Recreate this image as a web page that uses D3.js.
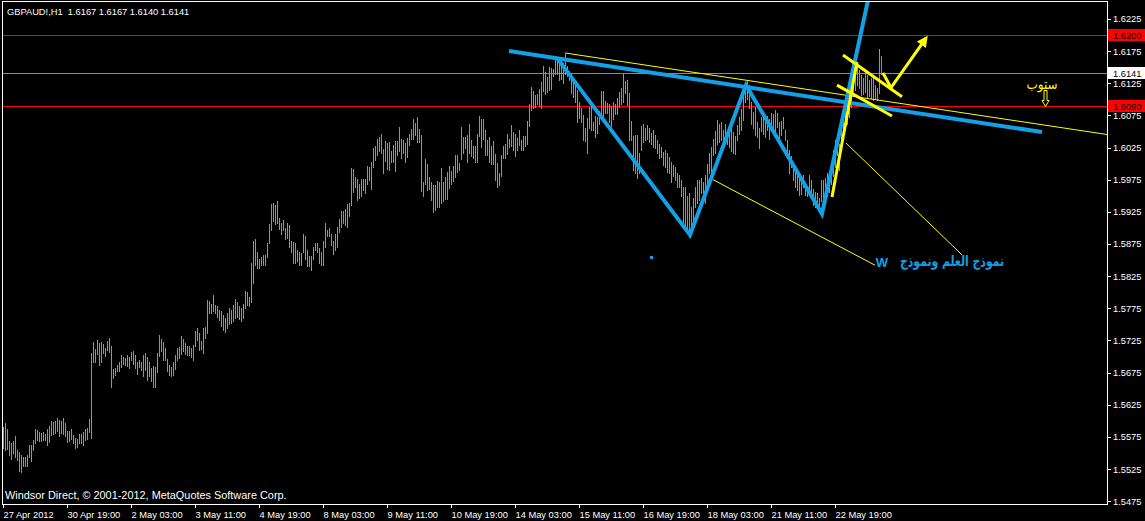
<!DOCTYPE html>
<html>
<head>
<meta charset="utf-8">
<script src="https://cdn.jsdelivr.net/npm/d3@7"></script>
<style>
  html, body { margin: 0; padding: 0; background: #000; }
  svg { display: block; }
  .lat { font-family: "Liberation Sans", Arial, sans-serif; }
</style>
</head>
<body>
<svg id="chart" width="1145" height="521"></svg>
<script>
// GBPAUD H1 — bar highs and lows, one entry per hourly bar (27 Apr 2012 → 23 May 2012)
const barHigh = [
  1.5591,1.5596,1.5587,1.5569,1.5566,1.5569,1.5577,1.5555,1.5551,1.5547,
  1.5544,1.5543,1.5547,1.5563,1.5562,1.5570,1.5588,1.5586,1.5582,1.5581,
  1.5583,1.5580,1.5588,1.5592,1.5599,1.5598,1.5599,1.5605,1.5601,1.5599,
  1.5605,1.5596,1.5584,1.5584,1.5587,1.5578,1.5574,1.5572,1.5580,1.5580,
  1.5582,1.5588,1.5589,1.5603,1.5706,1.5722,1.5712,1.5726,1.5721,1.5722,
  1.5719,1.5714,1.5724,1.5729,1.5716,1.5680,1.5682,1.5687,1.5692,1.5702,
  1.5700,1.5698,1.5702,1.5700,1.5707,1.5709,1.5702,1.5692,1.5695,1.5691,
  1.5703,1.5706,1.5700,1.5692,1.5682,1.5686,1.5683,1.5705,1.5734,1.5727,
  1.5722,1.5714,1.5696,1.5687,1.5683,1.5692,1.5702,1.5713,1.5715,1.5732,
  1.5728,1.5721,1.5716,1.5716,1.5713,1.5718,1.5739,1.5744,1.5736,1.5724,
  1.5745,1.5746,1.5788,1.5786,1.5782,1.5796,1.5780,1.5778,1.5772,1.5770,
  1.5765,1.5760,1.5768,1.5775,1.5772,1.5780,1.5790,1.5785,1.5778,1.5775,
  1.5782,1.5802,1.5801,1.5793,1.5846,1.5880,1.5883,1.5863,1.5852,1.5855,
  1.5858,1.5858,1.5877,1.5906,1.5937,1.5939,1.5936,1.5942,1.5916,1.5908,
  1.5913,1.5900,1.5908,1.5905,1.5880,1.5878,1.5877,1.5866,1.5863,1.5861,
  1.5891,1.5888,1.5866,1.5857,1.5857,1.5871,1.5877,1.5877,1.5869,1.5863,
  1.5880,1.5908,1.5897,1.5900,1.5891,1.5880,1.5891,1.5902,1.5914,1.5927,
  1.5927,1.5930,1.5937,1.5939,1.5993,1.5991,1.5979,1.5976,1.5968,1.5976,
  1.5976,1.5976,1.5996,1.5995,1.6003,1.6024,1.6028,1.6038,1.6042,1.6046,
  1.6023,1.6035,1.6032,1.6033,1.6019,1.6029,1.6035,1.6035,1.6057,1.6038,
  1.6037,1.6032,1.6040,1.6046,1.6054,1.6069,1.6063,1.6072,1.6054,1.6044,
  1.5971,1.6007,1.5999,1.5979,1.5971,1.5967,1.5967,1.5973,1.5971,1.5993,
  1.5971,1.5979,1.5987,1.5996,1.5988,1.5996,1.6013,1.6013,1.6001,1.6057,
  1.6041,1.6041,1.6044,1.6061,1.6037,1.6027,1.6027,1.6046,1.6074,1.6069,
  1.6069,1.6052,1.6037,1.6041,1.6027,1.6035,1.6015,1.6001,1.5985,1.6013,
  1.6027,1.6030,1.6046,1.6038,1.6060,1.6049,1.6046,1.6040,1.6052,1.6037,
  1.6043,1.6043,1.6066,1.6092,1.6119,1.6113,1.6107,1.6108,1.6116,1.6127,
  1.6152,1.6143,1.6135,1.6150,1.6148,1.6147,1.6161,1.6159,1.6158,1.6150,
  1.6156,1.6171,1.6152,1.6144,1.6141,1.6130,1.6125,1.6115,1.6095,1.6087,
  1.6075,1.6056,1.6071,1.6088,1.6089,1.6065,1.6074,1.6073,1.6082,1.6113,
  1.6113,1.6097,1.6094,1.6092,1.6090,1.6095,1.6092,1.6102,1.6111,1.6117,
  1.6139,1.6129,1.6130,1.6109,1.6067,1.6043,1.6044,1.6044,1.6016,1.6058,
  1.6062,1.6056,1.6060,1.6056,1.6047,1.6052,1.6044,1.6037,1.6031,1.6026,
  1.6018,1.6021,1.6016,1.6011,1.6003,1.5998,1.5995,1.5985,1.5982,1.5974,
  1.5964,1.5964,1.5949,1.5954,1.5933,1.5946,1.5964,1.5974,1.5975,1.5977,
  1.5972,1.5982,1.6000,1.6016,1.6026,1.6039,1.6051,1.6068,1.6062,1.6064,
  1.6052,1.6062,1.6053,1.6047,1.6056,1.6049,1.6043,1.6060,1.6072,1.6085,
  1.6117,1.6125,1.6129,1.6122,1.6096,1.6081,1.6088,1.6065,1.6055,1.6073,
  1.6081,1.6065,1.6074,1.6070,1.6079,1.6077,1.6083,1.6079,1.6064,1.6066,
  1.6072,1.6053,1.6037,1.6021,1.6012,1.5994,1.5991,1.5982,1.5985,1.5980,
  1.5982,1.5969,1.5964,1.5982,1.5974,1.5961,1.5956,1.5954,1.5946,1.5974,
  1.5974,1.5977,1.5985,1.5980,1.5995,1.6021,1.6037,1.6042,1.6031,1.6057,
  1.6073,1.6088,1.6094,1.6109,1.6130,1.6146,1.6153,1.6150,1.6146,1.6138,
  1.6133,1.6141,1.6138,1.6130,1.6133,1.6136,1.6122,1.6118,1.6178,1.6167
];
const barLow = [
  1.5557,1.5555,1.5556,1.5547,1.5541,1.5550,1.5544,1.5539,1.5522,1.5521,
  1.5529,1.5530,1.5529,1.5543,1.5537,1.5554,1.5565,1.5570,1.5569,1.5568,
  1.5570,1.5570,1.5562,1.5567,1.5578,1.5579,1.5581,1.5584,1.5576,1.5581,
  1.5579,1.5576,1.5567,1.5568,1.5572,1.5566,1.5557,1.5560,1.5565,1.5565,
  1.5562,1.5570,1.5572,1.5583,1.5573,1.5692,1.5692,1.5704,1.5687,1.5691,
  1.5705,1.5701,1.5710,1.5707,1.5653,1.5666,1.5672,1.5678,1.5678,1.5684,
  1.5689,1.5687,1.5686,1.5682,1.5695,1.5689,1.5682,1.5673,1.5683,1.5679,
  1.5670,1.5679,1.5664,1.5669,1.5662,1.5652,1.5652,1.5676,1.5701,1.5708,
  1.5695,1.5695,1.5677,1.5672,1.5669,1.5672,1.5680,1.5695,1.5698,1.5704,
  1.5708,1.5704,1.5703,1.5702,1.5699,1.5695,1.5716,1.5726,1.5710,1.5711,
  1.5705,1.5729,1.5737,1.5767,1.5767,1.5771,1.5767,1.5762,1.5756,1.5748,
  1.5742,1.5738,1.5745,1.5750,1.5752,1.5755,1.5760,1.5762,1.5758,1.5755,
  1.5760,1.5775,1.5780,1.5778,1.5785,1.5815,1.5843,1.5838,1.5837,1.5843,
  1.5843,1.5843,1.5854,1.5877,1.5896,1.5911,1.5906,1.5907,1.5899,1.5891,
  1.5896,1.5882,1.5885,1.5870,1.5862,1.5846,1.5845,1.5849,1.5843,1.5843,
  1.5862,1.5852,1.5841,1.5840,1.5834,1.5851,1.5865,1.5863,1.5845,1.5843,
  1.5843,1.5870,1.5887,1.5887,1.5873,1.5860,1.5866,1.5871,1.5893,1.5901,
  1.5907,1.5905,1.5901,1.5918,1.5936,1.5956,1.5964,1.5944,1.5947,1.5950,
  1.5959,1.5955,1.5969,1.5975,1.5960,1.5995,1.6005,1.6014,1.6019,1.6017,
  1.5985,1.6004,1.5992,1.5990,1.6003,1.6003,1.5989,1.6013,1.6019,1.6009,
  1.6016,1.6003,1.6011,1.6029,1.6038,1.6039,1.6044,1.6034,1.6034,1.5957,
  1.5949,1.5968,1.5959,1.5960,1.5943,1.5925,1.5928,1.5933,1.5933,1.5938,
  1.5942,1.5945,1.5945,1.5962,1.5968,1.5973,1.5979,1.5987,1.5990,1.6007,
  1.6017,1.6024,1.6003,1.6017,1.6012,1.6009,1.6003,1.6003,1.6043,1.6026,
  1.6039,1.6013,1.6013,1.6003,1.6000,1.6000,1.5975,1.5964,1.5966,1.5981,
  1.6008,1.6008,1.6015,1.6026,1.6027,1.6021,1.6012,1.6021,1.6029,1.6021,
  1.6021,1.6027,1.6030,1.6058,1.6083,1.6087,1.6088,1.6092,1.6089,1.6086,
  1.6113,1.6108,1.6111,1.6114,1.6116,1.6136,1.6139,1.6140,1.6130,1.6131,
  1.6125,1.6140,1.6136,1.6130,1.6110,1.6104,1.6095,1.6064,1.6071,1.6065,
  1.6037,1.6035,1.6017,1.6056,1.6053,1.6052,1.6042,1.6048,1.6062,1.6069,
  1.6074,1.6079,1.6078,1.6064,1.6058,1.6069,1.6077,1.6077,1.6088,1.6093,
  1.6096,1.6109,1.6091,1.6037,1.6037,1.5990,1.5985,1.5977,1.5985,1.6021,
  1.6034,1.6037,1.6038,1.6033,1.6031,1.6026,1.6024,1.6016,1.6008,1.6010,
  1.5998,1.5995,1.5987,1.5985,1.5972,1.5980,1.5974,1.5964,1.5964,1.5949,
  1.5902,1.5899,1.5894,1.5886,1.5894,1.5910,1.5933,1.5938,1.5943,1.5954,
  1.5944,1.5938,1.5959,1.5985,1.5987,1.6013,1.6016,1.6031,1.6034,1.6037,
  1.6025,1.6037,1.6030,1.6026,1.6020,1.6016,1.6015,1.6036,1.6046,1.6052,
  1.6068,1.6096,1.6101,1.6086,1.6062,1.6056,1.6044,1.6041,1.6025,1.6051,
  1.6046,1.6041,1.6052,1.6039,1.6050,1.6046,1.6051,1.6057,1.6038,1.6044,
  1.6055,1.6036,1.6008,1.5985,1.5995,1.5974,1.5964,1.5959,1.5951,1.5953,
  1.5964,1.5951,1.5949,1.5958,1.5954,1.5936,1.5933,1.5936,1.5928,1.5942,
  1.5947,1.5943,1.5949,1.5956,1.5969,1.5980,1.5995,1.6013,1.5990,1.6021,
  1.6037,1.6052,1.6062,1.6073,1.6088,1.6107,1.6114,1.6122,1.6118,1.6107,
  1.6108,1.6111,1.6102,1.6105,1.6102,1.6099,1.6102,1.6099,1.6110,1.6140
];

// time axis: label text and the bar each label sits on
const timeLabels = ["27 Apr 2012","30 Apr 19:00","2 May 03:00","3 May 11:00","4 May 19:00",
  "8 May 03:00","9 May 11:00","10 May 19:00","14 May 03:00","15 May 11:00",
  "16 May 19:00","18 May 03:00","21 May 11:00","22 May 19:00"];
const timeLabelBars = [0,32,64,96,128,160,192,224,256,288,320,352,384,416];

// price axis
const priceTicks = [1.6225,1.6175,1.6125,1.6075,1.6025,1.5975,1.5925,1.5875,1.5825,
  1.5775,1.5725,1.5675,1.5625,1.5575,1.5525,1.5475];
const priceMin = 1.5475, priceMax = 1.6225;

// header quote and footer
const title = "GBPAUD!,H1  1.6167 1.6167 1.6140 1.6141";
const footer = "Windsor Direct, \u00A9 2001-2012, MetaQuotes Software Corp.";

// horizontal levels
const redLevels = [1.6200, 1.6090];
const bidLevel = 1.6141;

// drawn objects, anchored as [bar, price]
const blueTrend   = [[253, 1.6175], [519.5, 1.6049]];
const wPattern    = [[277, 1.6164], [343.5, 1.5889], [371.5, 1.6122], [409.5, 1.5922], [432.5, 1.6254]];
const yellowTop   = [[281, 1.6172], [552.5, 1.6045]];
const yellowMid   = [[355, 1.5975], [436, 1.5842]];
const yellowRight = [[421.5, 1.6032], [479.5, 1.5858]];
const yellowRise  = [[414.5, 1.5948], [427, 1.6158]];
const flagUpper   = [[420, 1.6169], [449.5, 1.6104]];
const flagLower   = [[417, 1.6122], [444.5, 1.6074]];
const targetArrow = [[440, 1.6141], [444, 1.6118], [461.5, 1.6195]];
const blueDots    = [[324, 1.5855], [561.5, 1.6006]];
const stopNote    = {bar: 519.5, price: 1.6121, text: "ستوب"};
const stopArrow   = {bar: 520.75, from: 1.6114, to: 1.6090};
const patternNote = {bar: 474.5, price: 1.5847, text: "نموذج العلم ونموذج"};
const wNote       = {bar: 439.5, price: 1.5847, text: "W"};

const barColor = "#33dd1e";
const blue = "#12a0e6";
const yellow = "#ffff00";

const svg = d3.select("#chart");
svg.append("rect").attr("width", 1145).attr("height", 521).attr("fill", "#000");

const x = d3.scaleLinear().domain([0, 552]).range([3, 1107]);
const y = d3.scaleLinear().domain([priceMin, priceMax]).range([501.2, 18.9]);

svg.append("clipPath").attr("id", "plotClip")
  .append("rect").attr("x", 3).attr("y", 2).attr("width", 1104).attr("height", 502);

// horizontal price levels
const levels = svg.append("g").attr("shape-rendering", "crispEdges");
levels.append("line")
  .attr("x1", 3).attr("x2", 1107)
  .attr("y1", Math.round(y(bidLevel)) + 0.5).attr("y2", Math.round(y(bidLevel)) + 0.5)
  .attr("stroke", "#8a8a8a");

// OHLC bars
const bars = barHigh.map((h, i) => ({i, h, l: barLow[i]}));
svg.append("g").attr("shape-rendering", "crispEdges")
  .selectAll("rect").data(bars).join("rect")
  .attr("x", d => Math.round(x(d.i)))
  .attr("y", d => Math.round(y(d.h)))
  .attr("width", 1)
  .attr("height", d => Math.max(1, Math.round(y(d.l)) - Math.round(y(d.h)) + 1))
  .attr("fill", barColor);

levels.selectAll("line.red").data(redLevels).join("line").attr("class", "red")
  .attr("x1", 3).attr("x2", 1107)
  .attr("y1", d => Math.round(y(d)) + 0.5).attr("y2", d => Math.round(y(d)) + 0.5)
  .attr("stroke", "#ff0000");

// frame
svg.append("rect").attr("x", 2.5).attr("y", 1.5).attr("width", 1105).attr("height", 503)
  .attr("fill", "none").attr("stroke", "#fff").attr("shape-rendering", "crispEdges");

// price axis
const yAxis = d3.axisRight(y).tickValues(priceTicks).tickSize(4).tickPadding(2)
  .tickFormat(d3.format(".4f"));
const ya = svg.append("g").attr("transform", "translate(1107,0)").call(yAxis);
ya.select(".domain").remove();
ya.selectAll("line").attr("stroke", "#fff").attr("shape-rendering", "crispEdges");
ya.selectAll("text").attr("fill", "#fff").attr("class", "lat").attr("font-size", "9.3px");

// time axis
const xAxis = d3.axisBottom(x).tickValues(timeLabelBars).tickSize(4).tickPadding(3)
  .tickFormat((d, i) => timeLabels[i]);
const xa = svg.append("g").attr("transform", "translate(0,504)").call(xAxis);
xa.select(".domain").remove();
xa.selectAll("line").attr("stroke", "#fff").attr("shape-rendering", "crispEdges");
xa.selectAll("text").attr("fill", "#fff").attr("class", "lat").attr("font-size", "9.3px")
  .attr("text-anchor", "start").attr("x", 0);

// price tags on the axis
const tags = [
  {p: redLevels[0], fill: "#ff0000", color: "#000"},
  {p: redLevels[1], fill: "#ff0000", color: "#000"},
  {p: bidLevel, fill: "#ffffff", color: "#000"}
];
const tg = svg.append("g");
tags.forEach(t => {
  const yy = Math.round(y(t.p));
  tg.append("rect").attr("x", 1108).attr("y", yy - 6).attr("width", 37).attr("height", 12)
    .attr("fill", t.fill).attr("shape-rendering", "crispEdges");
  tg.append("text").attr("class", "lat").attr("x", 1113).attr("y", yy + 3.5)
    .attr("font-size", "9.3px").attr("fill", t.color).text(d3.format(".4f")(t.p));
});

// drawn objects
const objs = svg.append("g").attr("clip-path", "url(#plotClip)");
const line = d3.line().x(d => x(d[0])).y(d => y(d[1]));

objs.append("path").attr("d", line(yellowTop)).attr("fill", "none").attr("stroke", yellow).attr("stroke-width", 1);
objs.append("path").attr("d", line(yellowMid)).attr("fill", "none").attr("stroke", yellow).attr("stroke-width", 1);
objs.append("path").attr("d", line(yellowRight)).attr("fill", "none").attr("stroke", yellow).attr("stroke-width", 1);

objs.append("path").attr("d", line(blueTrend)).attr("fill", "none").attr("stroke", blue).attr("stroke-width", 4);
objs.append("path").attr("d", line(wPattern)).attr("fill", "none").attr("stroke", blue).attr("stroke-width", 4)
  .attr("stroke-linejoin", "miter");

[yellowRise, flagUpper, flagLower].forEach(seg => {
  objs.append("path").attr("d", line(seg)).attr("fill", "none").attr("stroke", yellow).attr("stroke-width", 3);
});

objs.append("path").attr("d", line(targetArrow)).attr("fill", "none").attr("stroke", yellow).attr("stroke-width", 3);
{
  const n = targetArrow.length;
  const p1 = [x(targetArrow[n - 2][0]), y(targetArrow[n - 2][1])];
  const p2 = [x(targetArrow[n - 1][0]), y(targetArrow[n - 1][1])];
  const len = Math.hypot(p2[0] - p1[0], p2[1] - p1[1]);
  const ux = (p2[0] - p1[0]) / len, uy = (p2[1] - p1[1]) / len;
  const tip = [p2[0] + ux * 3, p2[1] + uy * 3];
  const base = [p2[0] - ux * 8, p2[1] - uy * 8];
  const head = [tip, [base[0] - uy * 5.5, base[1] + ux * 5.5], [base[0] + uy * 5.5, base[1] - ux * 5.5]];
  objs.append("path").attr("d", "M" + head.map(p => p.join(",")).join("L") + "Z").attr("fill", yellow);
}

objs.selectAll("rect.dot").data(blueDots).join("rect").attr("class", "dot")
  .attr("x", d => Math.round(x(d[0])) - 1).attr("y", d => Math.round(y(d[1])) - 1)
  .attr("width", 3).attr("height", 3).attr("fill", blue);

// stop note with hollow down arrow
svg.append("text").attr("x", x(stopNote.bar)).attr("y", y(stopNote.price) + 3)
  .attr("text-anchor", "middle").attr("font-family", "'DejaVu Sans', sans-serif")
  .attr("font-size", "14px").attr("fill", yellow)
  .attr("textLength", 31).attr("lengthAdjust", "spacingAndGlyphs").text(stopNote.text);
{
  const cx = Math.round(x(stopArrow.bar)) + 0.5;
  const top = Math.round(y(stopArrow.from)) + 0.5;
  const tip = Math.round(y(stopArrow.to)) + 0.5;
  const hy = tip - 6;
  const d = `M${cx - 1.5},${top}L${cx + 1.5},${top}L${cx + 1.5},${hy}L${cx + 3.5},${hy}L${cx},${tip}` +
            `L${cx - 3.5},${hy}L${cx - 1.5},${hy}Z`;
  svg.append("path").attr("d", d).attr("fill", "none").attr("stroke", yellow).attr("stroke-width", 1);
}

// pattern caption
svg.append("text").attr("x", x(patternNote.bar)).attr("y", y(patternNote.price) + 4)
  .attr("text-anchor", "middle").attr("font-family", "'DejaVu Sans', sans-serif")
  .attr("font-weight", "bold").attr("font-size", "14.5px").attr("fill", blue)
  .attr("textLength", 104).attr("lengthAdjust", "spacingAndGlyphs").text(patternNote.text);
svg.append("text").attr("x", x(wNote.bar)).attr("y", y(wNote.price) + 5)
  .attr("text-anchor", "middle").attr("class", "lat")
  .attr("font-weight", "bold").attr("font-size", "13px").attr("fill", blue).text(wNote.text);

// header and footer
svg.append("text").attr("class", "lat").attr("x", 7).attr("y", 14.5)
  .attr("font-size", "9.3px").attr("fill", "#fff").style("white-space", "pre").text(title);
svg.append("text").attr("class", "lat").attr("x", 5).attr("y", 499)
  .attr("font-size", "10.9px").attr("fill", "#fff").text(footer);
</script>
</body>
</html>
